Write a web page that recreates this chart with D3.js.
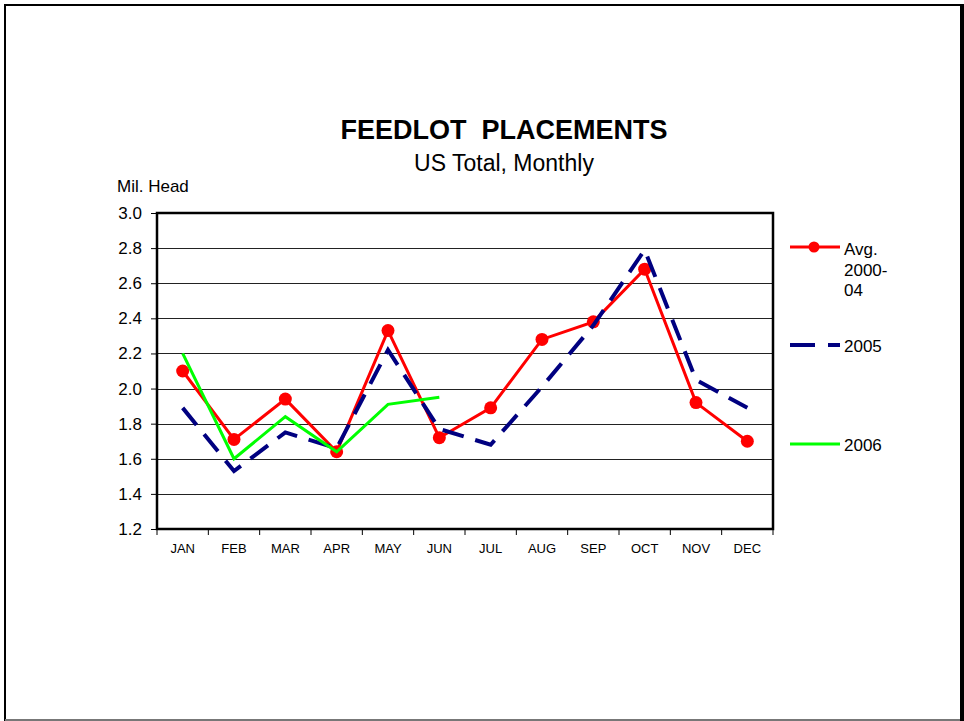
<!DOCTYPE html>
<html>
<head>
<meta charset="utf-8">
<script src="https://cdn.jsdelivr.net/npm/d3@7"></script>
<style>
  body { margin: 0; background: #fff; }
  text { font-family: "Liberation Sans", Arial, sans-serif; fill: #000; }
</style>
</head>
<body>
<div id="chart"></div>
<script>
// categories and series (million head)
const months = ["JAN","FEB","MAR","APR","MAY","JUN","JUL","AUG","SEP","OCT","NOV","DEC"];
const avg0004 = [2.10, 1.71, 1.94, 1.64, 2.33, 1.72, 1.89, 2.28, 2.38, 2.68, 1.92, 1.70];
const y2005 = [1.89, 1.53, 1.75, 1.66, 2.22, 1.77, 1.68, 2.01, 2.36, 2.79, 2.05, 1.89];
const y2006 = [2.20, 1.60, 1.84, 1.64, 1.91, 1.95];
const yTicks = [1.2, 1.4, 1.6, 1.8, 2.0, 2.2, 2.4, 2.6, 2.8, 3.0];

const W = 964, H = 721;
const plot = {l: 157, t: 213, r: 773, b: 529};

const svg = d3.select("#chart").append("svg")
    .attr("width", W).attr("height", H);

// outer frame
svg.append("line").attr("x1", 5).attr("y1", 4).attr("x2", 5).attr("y2", 721)
    .attr("stroke", "#000").attr("stroke-width", 2);
svg.append("line").attr("x1", 4).attr("y1", 5).attr("x2", 964).attr("y2", 5)
    .attr("stroke", "#000").attr("stroke-width", 2);
svg.append("line").attr("x1", 962).attr("y1", 4).attr("x2", 962).attr("y2", 721)
    .attr("stroke", "#000").attr("stroke-width", 4);
svg.append("line").attr("x1", 5).attr("y1", 720).attr("x2", 960).attr("y2", 720)
    .attr("stroke", "#777").attr("stroke-width", 2);

// titles
svg.append("text").attr("x", 504).attr("y", 139)
    .attr("text-anchor", "middle").style("font-size", "27px").style("font-weight", "bold")
    .style("white-space", "pre").text("FEEDLOT  PLACEMENTS");
svg.append("text").attr("x", 504).attr("y", 171)
    .attr("text-anchor", "middle").style("font-size", "23px")
    .text("US Total, Monthly");
svg.append("text").attr("x", 117).attr("y", 192)
    .style("font-size", "17px").text("Mil. Head");

// scales
const x = d3.scaleBand().domain(months).range([plot.l, plot.r]);
const y = d3.scaleLinear().domain([1.2, 3.0]).range([plot.b, plot.t]);
const cx = m => x(m) + x.bandwidth() / 2;

// gridlines
svg.append("g").selectAll("line").data(yTicks.slice(1, -1)).enter().append("line")
    .attr("x1", plot.l).attr("x2", plot.r)
    .attr("y1", d => Math.round(y(d)) + 0.5).attr("y2", d => Math.round(y(d)) + 0.5)
    .attr("stroke", "#222").attr("stroke-width", 1);

// y axis
const yAxis = svg.append("g").attr("transform", `translate(${plot.l},0)`)
    .call(d3.axisLeft(y).tickValues(yTicks).tickFormat(d3.format(".1f")).tickSize(6).tickPadding(9));
yAxis.select(".domain").remove();
yAxis.selectAll("line").attr("stroke", "#000");
yAxis.selectAll("text").style("font-size", "17px").attr("font-family", null);

// x axis with ticks at band boundaries
const xAxis = svg.append("g").attr("transform", `translate(0,${plot.b})`);
xAxis.selectAll("line").data(d3.range(13)).enter().append("line")
    .attr("x1", i => plot.l + i * x.step()).attr("x2", i => plot.l + i * x.step())
    .attr("y1", 0).attr("y2", 6).attr("stroke", "#000");
xAxis.selectAll("text").data(months).enter().append("text")
    .attr("x", d => cx(d)).attr("y", 24)
    .attr("text-anchor", "middle").style("font-size", "13px").text(d => d);

// plot frame
svg.append("rect").attr("x", plot.l).attr("y", plot.t)
    .attr("width", plot.r - plot.l).attr("height", plot.b - plot.t)
    .attr("fill", "none").attr("stroke", "#000").attr("stroke-width", 2.5);

const line = d3.line().x((d, i) => cx(months[i])).y(d => y(d));

// Avg 2000-04
svg.append("path").datum(avg0004).attr("d", line)
    .attr("fill", "none").attr("stroke", "#ff0000").attr("stroke-width", 3);
svg.append("g").selectAll("circle").data(avg0004).enter().append("circle")
    .attr("cx", (d, i) => cx(months[i])).attr("cy", d => y(d)).attr("r", 6.5)
    .attr("fill", "#ff0000");

// 2005
svg.append("path").datum(y2005).attr("d", line)
    .attr("fill", "none").attr("stroke", "#000080").attr("stroke-width", 4)
    .attr("stroke-dasharray", "22,12");

// 2006
svg.append("path").datum(y2006).attr("d", line)
    .attr("fill", "none").attr("stroke", "#00ff00").attr("stroke-width", 3);

// legend
const leg = svg.append("g").style("font-size", "17px");
leg.append("line").attr("x1", 790).attr("x2", 840).attr("y1", 247).attr("y2", 247)
    .attr("stroke", "#ff0000").attr("stroke-width", 3);
leg.append("circle").attr("cx", 814).attr("cy", 247).attr("r", 5.5).attr("fill", "#ff0000");
["Avg.", "2000-", "04"].forEach((t, i) => {
    leg.append("text").attr("x", 844).attr("y", 255 + i * 20.5).text(t);
});
leg.append("line").attr("x1", 790).attr("x2", 840).attr("y1", 345).attr("y2", 345)
    .attr("stroke", "#000080").attr("stroke-width", 4).attr("stroke-dasharray", "25,13");
leg.append("text").attr("x", 844).attr("y", 352).text("2005");
leg.append("line").attr("x1", 790).attr("x2", 840).attr("y1", 444).attr("y2", 444)
    .attr("stroke", "#00ff00").attr("stroke-width", 3);
leg.append("text").attr("x", 844).attr("y", 451).text("2006");
</script>
</body>
</html>
